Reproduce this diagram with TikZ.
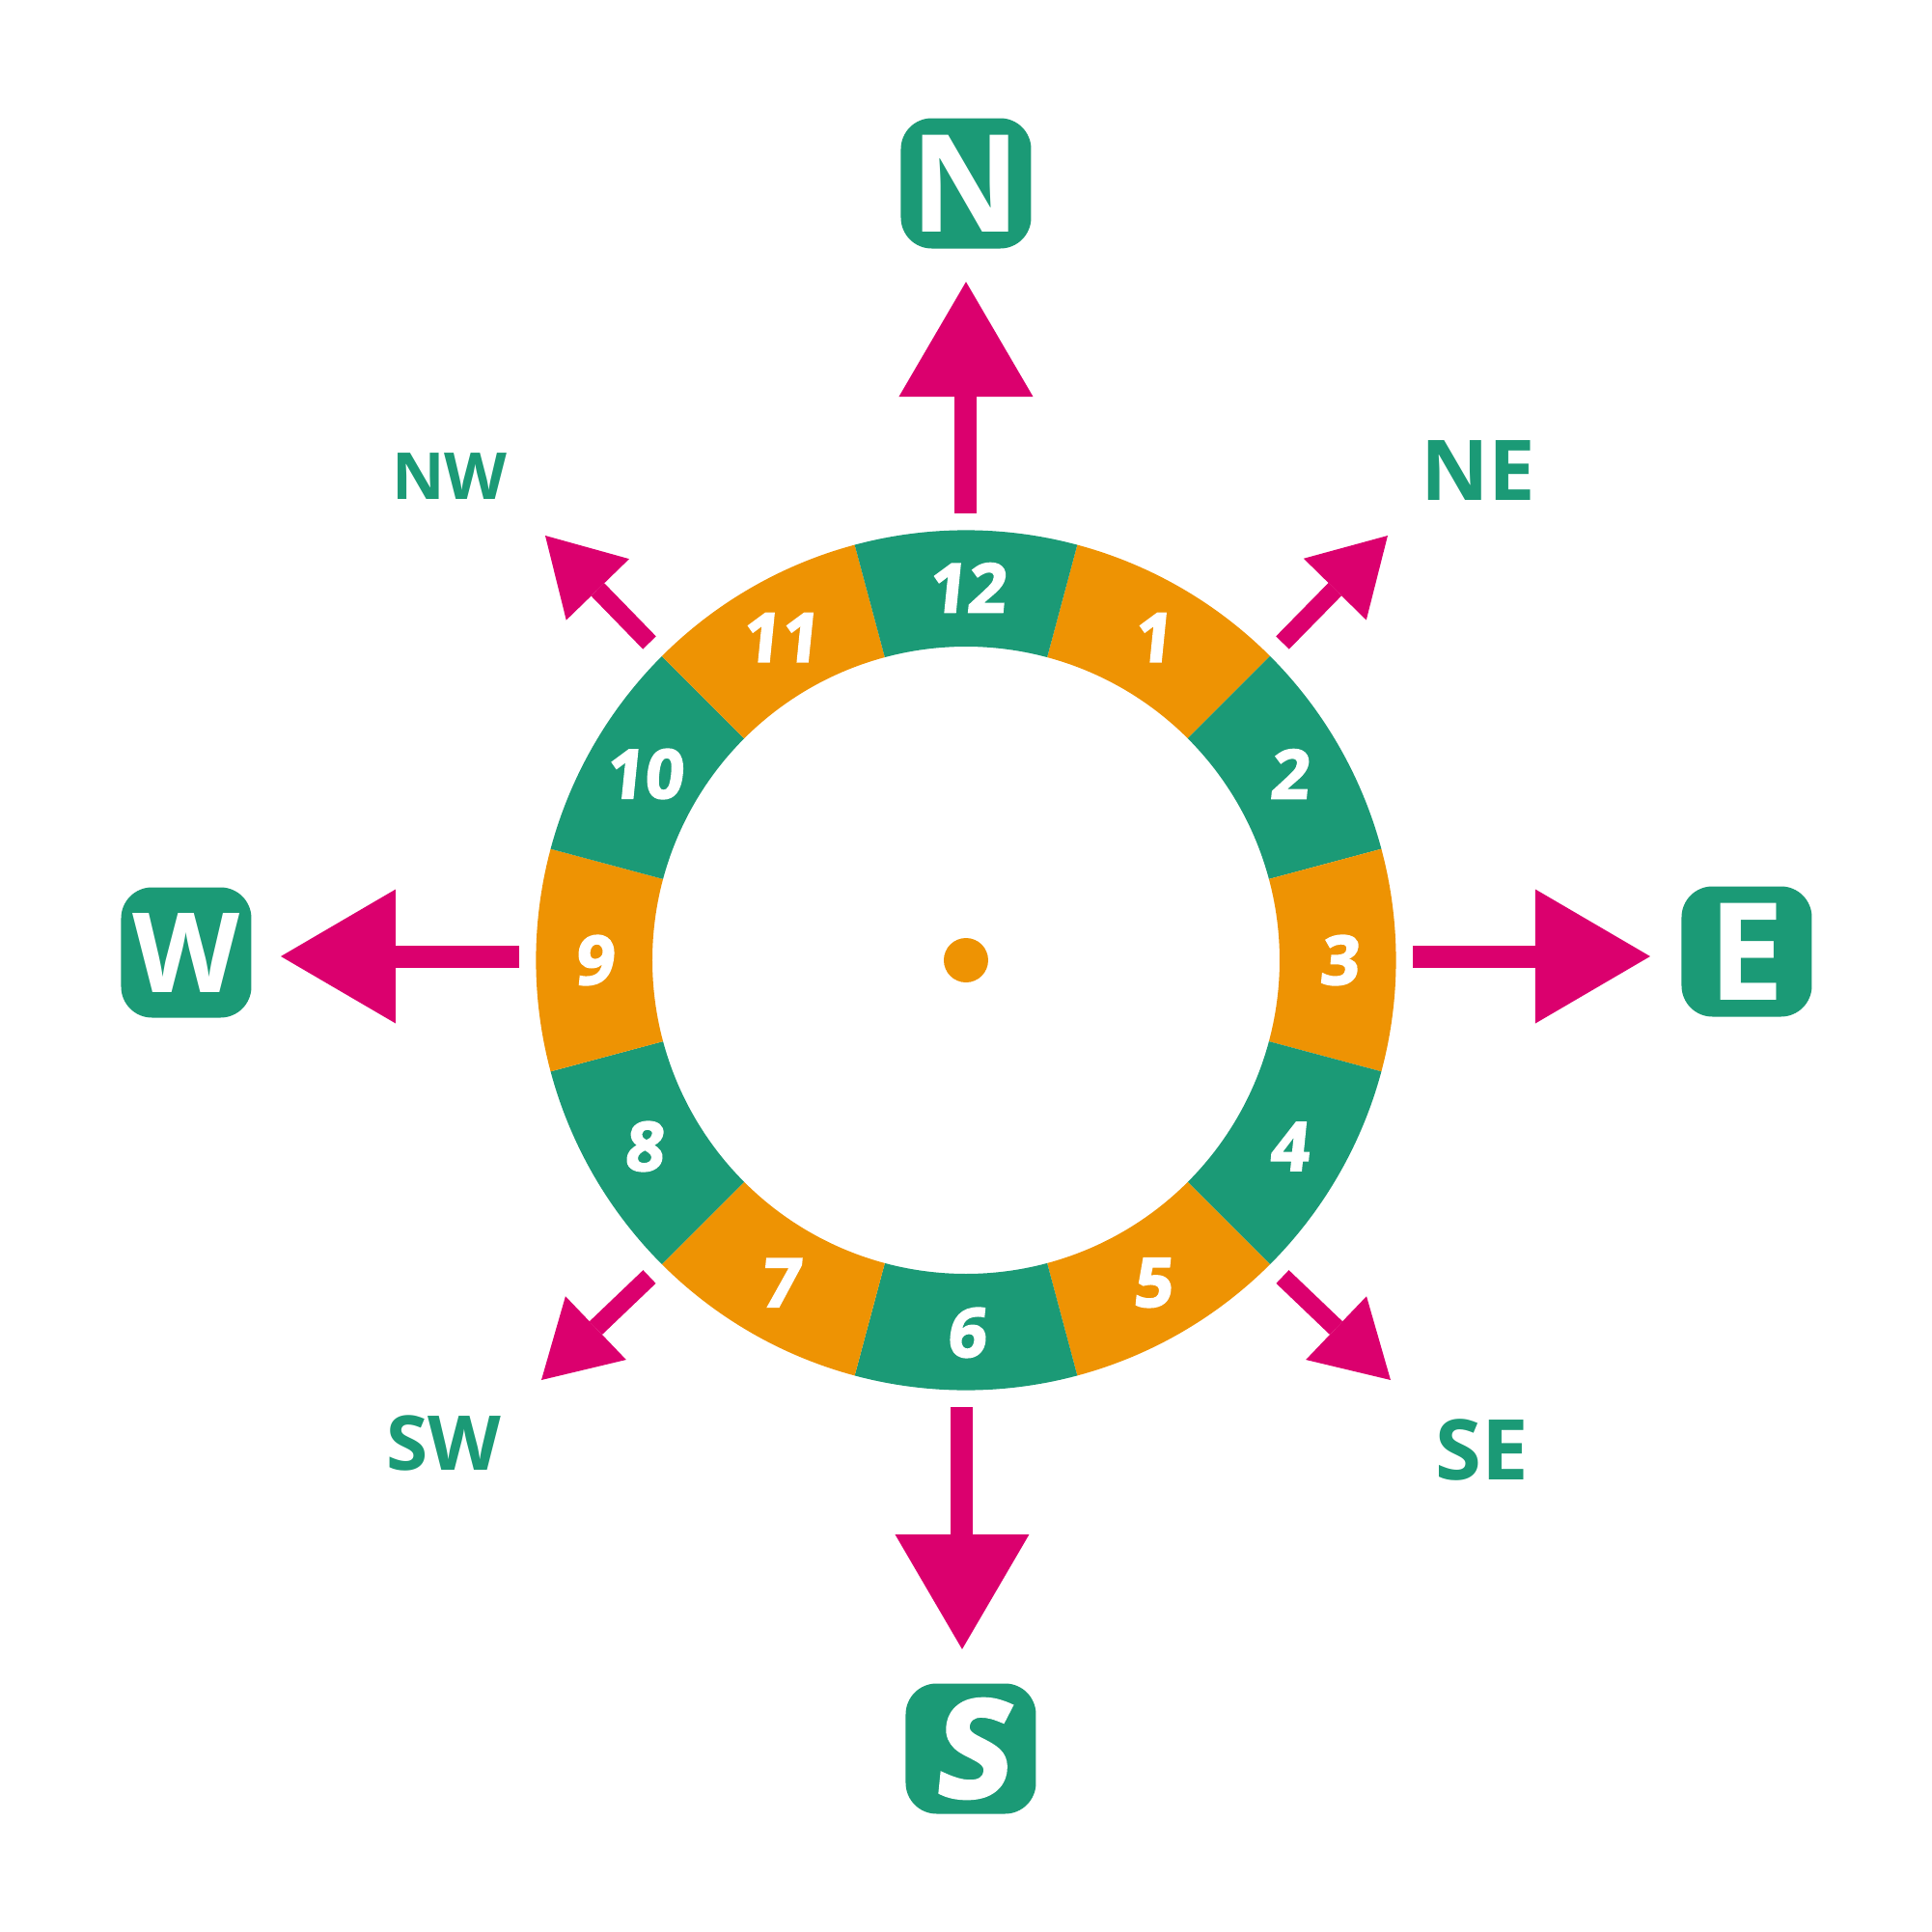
\documentclass[tikz,border=0pt]{standalone}
\usepackage{fontspec}
\setmainfont{Open Sans}
\newfontfamily\hourfont[FakeSlant=0.1, BoldFeatures={FakeSlant=0.1, FakeBold=2.5}]{Open Sans}
\usetikzlibrary{arrows.meta}

\definecolor{compassgreen}{RGB}{27,154,118}
\definecolor{compassorange}{RGB}{238,147,3}
\definecolor{compassmagenta}{RGB}{219,0,110}

\tikzset{
  cardbox/.style={rectangle, rounded corners=0.32cm, fill=compassgreen, text=white,
    minimum size=1.35cm, inner sep=0pt, font=\fontsize{40}{40}\selectfont\bfseries},
  diaglabel/.style={text=compassgreen, inner sep=0pt},
  hour/.style={text=white, inner sep=0pt, font=\hourfont\fontsize{20}{20}\selectfont\bfseries},
  bigarrow/.style={draw=compassmagenta, line width=0.23cm,
    -{Triangle[width=1.39cm, length=1.19cm, line width=0pt]}},
  smallarrow/.style={draw=compassmagenta, line width=0.19cm,
    -{Triangle[width=0.91cm, length=0.78cm, line width=0pt]}}
}

\begin{document}
\begin{tikzpicture}
  \useasboundingbox (-10.01,-10.07) rectangle (10.01,9.95);

  % dial
  \foreach \k/\col in {1/compassorange, 2/compassgreen, 3/compassorange, 4/compassgreen,
      5/compassorange, 6/compassgreen, 7/compassorange, 8/compassgreen,
      9/compassorange, 10/compassgreen, 11/compassorange, 12/compassgreen}{
    \fill[\col] ({105-30*\k}:4.456) arc[start angle=105-30*\k, end angle=75-30*\k, radius=4.456cm]
      -- ({75-30*\k}:3.25) arc[start angle=75-30*\k, end angle=105-30*\k, radius=3.25cm] -- cycle;
    \node[hour] (h\k) at ({90-30*\k}:3.86) {\k};
  }
  \node[circle, fill=compassorange, minimum size=0.46cm, inner sep=0pt] (hub) at (0,0) {};

  % main points
  \node[cardbox] (north) at (0,8.05) {N};
  \node[cardbox] (east) at (8.09,0.09) {E};
  \node[cardbox, font=\hourfont\fontsize{40}{40}\selectfont\bfseries] (south) at (0.05,-8.17) {S};
  \node[cardbox, font=\fontsize{32.7}{33}\selectfont\bfseries] (west) at (-8.08,0.08) {W};

  \node[diaglabel, font=\fontsize{24.7}{25}\selectfont\bfseries] (ne) at (5.31,5.07) {NE};
  \node[diaglabel, font=\fontsize{19.1}{19}\selectfont\bfseries] (nw) at (-5.35,5.01) {NW};
  \node[diaglabel, font=\fontsize{22.3}{22}\selectfont\bfseries] (sw) at (-5.41,-5.00) {SW};
  \node[diaglabel, font=\fontsize{24.7}{25}\selectfont\bfseries] (se) at (5.35,-5.07) {SE};

  % arrows
  \coordinate (nFrom) at (0,4.63);      \coordinate (nTo) at (0,7.03);
  \coordinate (eFrom) at (4.63,0.04);   \coordinate (eTo) at (7.09,0.04);
  \coordinate (sFrom) at (-0.04,-4.63); \coordinate (sTo) at (-0.04,-7.14);
  \coordinate (wFrom) at (-4.63,0.04);  \coordinate (wTo) at (-7.10,0.04);
  \draw[bigarrow] (nFrom) -- (nTo);
  \draw[bigarrow] (eFrom) -- (eTo);
  \draw[bigarrow] (sFrom) -- (sTo);
  \draw[bigarrow] (wFrom) -- (wTo);

  \coordinate (neFrom) at (3.28,3.29);   \coordinate (neTo) at (4.37,4.40);
  \coordinate (nwFrom) at (-3.28,3.29);  \coordinate (nwTo) at (-4.36,4.40);
  \coordinate (swFrom) at (-3.28,-3.28); \coordinate (swTo) at (-4.40,-4.35);
  \coordinate (seFrom) at (3.28,-3.28);  \coordinate (seTo) at (4.40,-4.35);
  \draw[smallarrow] (neFrom) -- (neTo);
  \draw[smallarrow] (nwFrom) -- (nwTo);
  \draw[smallarrow] (swFrom) -- (swTo);
  \draw[smallarrow] (seFrom) -- (seTo);
\end{tikzpicture}
\end{document}
